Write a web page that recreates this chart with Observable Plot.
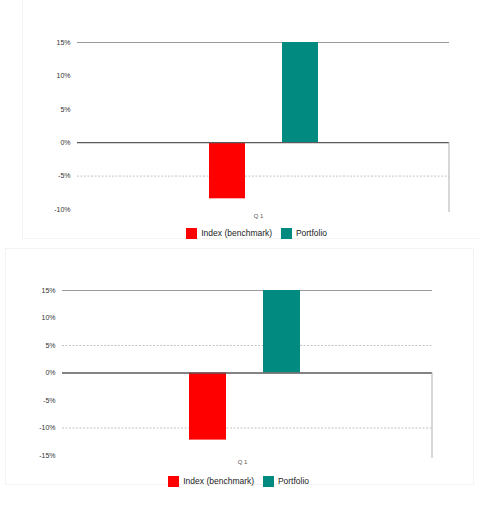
<!DOCTYPE html>
<html><head><meta charset="utf-8">
<script src="https://cdn.jsdelivr.net/npm/d3@7"></script>
<script src="https://cdn.jsdelivr.net/npm/@observablehq/plot@0.6"></script>
<style>
body{margin:0;background:#fff;font-family:"Liberation Sans",Arial,sans-serif;}
#wrap{position:relative;width:480px;height:511px;overflow:hidden;background:#fff}
.card{position:absolute;border:1px solid #f3f3f3;background:#fff}
.chart{position:absolute;left:0}
.leg{position:absolute;white-space:nowrap}
</style></head><body><div id="wrap"></div>
<script>
const series = ["Index (benchmark)", "Portfolio"];
const colors = ["#ff0000", "#008a80"];
const category = "Q 1";
const values1 = [-8.4, 15];
const values2 = [-12.2, 15];
const ticks1 = [-10, -5, 0, 5, 10, 15];
const ticks2 = [-15, -10, -5, 0, 5, 10, 15];
const grid1 = [-5];
const grid2 = [5, -10];

const wrap = document.getElementById("wrap");

function card(l, t, w, h) {
  const d = document.createElement("div");
  d.className = "card";
  Object.assign(d.style, {left: l + "px", top: t + "px", width: w + "px", height: h + "px"});
  wrap.appendChild(d);
}
card(22, -2, 470, 239);
card(5, 248, 467, 235);

function rightEdge(yMin) {
  return (index, scales, values, dims) => {
    const x = dims.width - dims.marginRight;
    const g = d3.create("svg:g");
    g.append("line")
      .attr("x1", x).attr("x2", x)
      .attr("y1", scales.y(0)).attr("y2", scales.y(yMin) + 3)
      .attr("stroke", "#b0b0b0").attr("stroke-width", 1);
    return g.node();
  };
}

function panel({top, height, marginLeft, marginRight, domain, ticks, grid, values, pi, po, align, legLeft, legTop}) {
  const data = series.map((s, i) => ({series: s, value: values[i]}));
  const chart = Plot.plot({
    width: 480, height, marginTop: 42, marginBottom: 13,
    marginLeft, marginRight,
    style: {fontFamily: "Liberation Sans, Arial, sans-serif", fontSize: "7px", color: "#333", background: "transparent"},
    x: {domain: series, paddingInner: pi, paddingOuter: po, align, axis: null},
    y: {domain, ticks, tickFormat: d => d + "%", tickSize: 0, tickPadding: 7, label: null},
    marks: [
      Plot.ruleY(grid, {stroke: "#c4c4c4", strokeDasharray: "2,1.5", strokeWidth: 1}),
      Plot.ruleY([domain[1]], {stroke: "#9a9a9a", strokeWidth: 1}),
      Plot.barY(data, {x: "series", y: "value", fill: (d) => colors[series.indexOf(d.series)]}),
      Plot.ruleY([0], {stroke: "#5a5a5a", strokeWidth: 1.3}),
      rightEdge(domain[0]),
      Plot.text([category], {frameAnchor: "bottom", dy: 8, dx: -5, text: d => d, fontSize: 6, fill: "#555"})
    ]
  });
  chart.classList.add("chart");
  chart.style.top = top + "px";
  wrap.appendChild(chart);

  const leg = Plot.legend({
    color: {type: "categorical", domain: series, range: colors},
    swatchSize: 11,
    style: {fontFamily: "Liberation Sans, Arial, sans-serif", fontSize: "8.5px", color: "#222", minHeight: "0", margin: "0", lineHeight: "11px"}
  });
  const box = document.createElement("div");
  box.className = "leg";
  Object.assign(box.style, {left: legLeft + "px", top: legTop + "px"});
  box.appendChild(leg);
  wrap.appendChild(box);
}

panel({top: 0, height: 222, marginLeft: 77, marginRight: 31, domain: [-10, 15], ticks: ticks1, grid: grid1,
  values: values1, pi: 0.51, po: 1.77, align: 0.5, legLeft: 186, legTop: 228});
panel({top: 248, height: 220, marginLeft: 62, marginRight: 48, domain: [-15, 15], ticks: ticks2, grid: grid2,
  values: values2, pi: 0.5, po: 1.75, align: 0.49, legLeft: 168, legTop: 476});
</script></body></html>
